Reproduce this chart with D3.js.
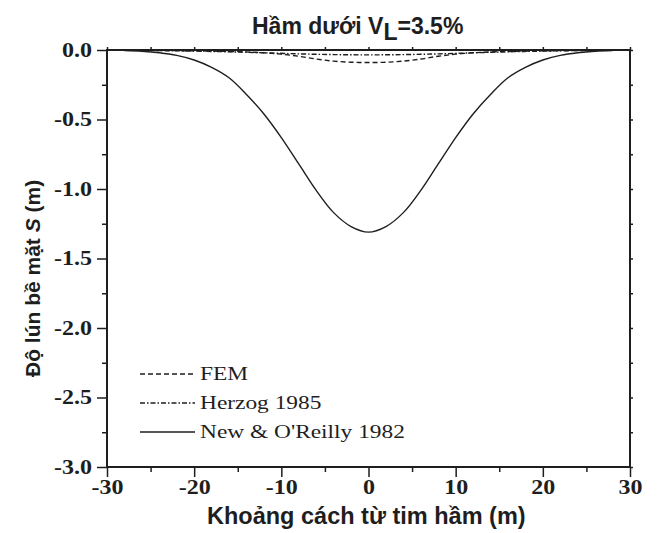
<!DOCTYPE html>
<html>
<head>
<meta charset="utf-8">
<script src="https://cdn.jsdelivr.net/npm/d3@7"></script>
<style>
  body { margin: 0; background: #fff; }
  svg { display: block; }
</style>
</head>
<body>
<svg id="chart" width="657" height="533"></svg>
<script>
// Distance from tunnel centre (m)
const xNew = [-28, -26, -24, -22, -20, -18, -16, -14, -12, -10, -8, -6, -4, -2, 0, 2, 4, 6, 8, 10, 12, 14, 16, 18, 20, 22, 24, 26, 28];
// New & O'Reilly 1982 settlement (m)
const sNew = [-0.004, -0.009, -0.020, -0.039, -0.072, -0.125, -0.20, -0.32, -0.46, -0.63, -0.82, -1.01, -1.17, -1.27, -1.31, -1.27, -1.17, -1.01, -0.82, -0.63, -0.46, -0.32, -0.20, -0.125, -0.072, -0.039, -0.020, -0.009, -0.004];

const xFem = [-27, -25, -20, -15, -12, -10, -8, -6, -4, -2, 0, 2, 4, 6, 8, 10, 12, 15, 20, 25, 27];
const sFem = [-0.002, -0.003, -0.006, -0.012, -0.02, -0.03, -0.045, -0.065, -0.08, -0.088, -0.09, -0.088, -0.08, -0.065, -0.045, -0.03, -0.02, -0.012, -0.006, -0.003, -0.002];

const xHer = [-27, -24, -20, -16, -12, -8, -4, 0, 4, 8, 12, 16, 20, 24, 27];
const sHer = [-0.002, -0.004, -0.008, -0.013, -0.02, -0.028, -0.033, -0.035, -0.033, -0.028, -0.02, -0.013, -0.008, -0.004, -0.002];

const xTicks = [-30, -20, -10, 0, 10, 20, 30];
const yTicks = [0, -0.5, -1.0, -1.5, -2.0, -2.5, -3.0];
const legendLabels = ["FEM", "Herzog 1985", "New & O'Reilly 1982"];

const margin = { top: 50, right: 27, bottom: 66, left: 107 };
const width = 657 - margin.left - margin.right;
const height = 533 - margin.top - margin.bottom;

const svg = d3.select("#chart");
const g = svg.append("g")
    .attr("transform", "translate(" + margin.left + "," + margin.top + ")");

const x = d3.scaleLinear().domain([-30, 30]).range([0, width]);
const y = d3.scaleLinear().domain([-3, 0]).range([height, 0]);

const ink = "#1e1e1e";
const serif = "'Liberation Serif', 'Times New Roman', serif";
const sans = "'Liberation Sans', Arial, sans-serif";
const stretch = 1.2; // tick labels look horizontally stretched

// minor ticks
g.append("g")
    .attr("transform", "translate(0," + height + ")")
    .call(d3.axisBottom(x).tickValues(d3.range(-25, 30, 10)).tickSize(5).tickFormat(""))
    .call(a => a.select(".domain").remove());
g.append("g")
    .call(d3.axisLeft(y).tickValues(d3.range(-2.75, 0, 0.5)).tickSize(5).tickFormat(""))
    .call(a => a.select(".domain").remove());
// top and right frame ticks
g.append("g")
    .call(d3.axisTop(x).tickValues(d3.range(-30, 31, 5)).tickSize(3).tickFormat(""))
    .call(a => a.select(".domain").remove());
g.append("g")
    .attr("transform", "translate(" + width + ",0)")
    .call(d3.axisRight(y).tickValues(d3.range(-3, 0.01, 0.25)).tickSize(3).tickFormat(""))
    .call(a => a.select(".domain").remove());

// major axes
const xAxis = g.append("g")
    .attr("transform", "translate(0," + height + ")")
    .call(d3.axisBottom(x).tickValues(xTicks).tickSize(10).tickSizeOuter(0).tickPadding(3)
        .tickFormat(d => String(d)));
const yAxis = g.append("g")
    .call(d3.axisLeft(y).tickValues(yTicks).tickSize(10).tickSizeOuter(0)
        .tickFormat(d => d.toFixed(1).replace("-0.0", "0.0")));

[xAxis, yAxis].forEach(a => {
    a.selectAll("text")
        .attr("fill", ink)
        .attr("transform", "scale(" + stretch + ",1)")
        .style("font-family", serif)
        .style("font-weight", "bold")
        .style("font-size", "20px");
});
yAxis.selectAll("text").attr("x", -15 / stretch);
g.selectAll(".tick line").attr("stroke", ink).attr("stroke-width", 1.5);

// frame
g.append("rect")
    .attr("width", width).attr("height", height)
    .attr("fill", "none").attr("stroke", ink).attr("stroke-width", 2);

// series
const line = d3.line().x(d => x(d[0])).y(d => y(d[1])).curve(d3.curveCatmullRom);
const series = [
    { xs: xFem, ys: sFem, dash: "5,3" },
    { xs: xHer, ys: sHer, dash: "5,2,1.5,2" },
    { xs: xNew, ys: sNew, dash: null }
];
series.forEach(s => {
    g.append("path")
        .datum(d3.zip(s.xs, s.ys))
        .attr("d", line)
        .attr("fill", "none")
        .attr("stroke", ink)
        .attr("stroke-width", 1.4)
        .attr("stroke-dasharray", s.dash);
});

// legend
const legend = g.append("g").attr("transform", "translate(33,324)");
legendLabels.forEach((lab, i) => {
    const row = legend.append("g").attr("transform", "translate(0," + (i * 29) + ")");
    row.append("line")
        .attr("x1", 0).attr("x2", 55)
        .attr("stroke", ink).attr("stroke-width", 1.4)
        .attr("stroke-dasharray", series[i].dash);
    row.append("text")
        .attr("transform", "translate(60,6) scale(1.3,1)")
        .attr("fill", ink)
        .style("font-family", serif)
        .style("font-size", "18px")
        .text(lab);
});

// title
const title = svg.append("text")
    .attr("x", 252).attr("y", 34)
    .attr("fill", ink)
    .style("font-family", sans)
    .style("font-weight", "bold")
    .style("font-size", "23px");
title.append("tspan").text("Hầm dưới V");
title.append("tspan").attr("dy", 6).text("L");
title.append("tspan").attr("dy", -6).text("=3.5%");

// x axis title
svg.append("text")
    .attr("x", 207).attr("y", 524)
    .attr("fill", ink)
    .style("font-family", sans)
    .style("font-weight", "bold")
    .style("font-size", "23.5px")
    .text("Khoảng cách từ tim hầm (m)");

// y axis title
const yTitle = svg.append("text")
    .attr("transform", "translate(40,377) rotate(-90)")
    .attr("fill", ink)
    .style("font-family", sans)
    .style("font-weight", "bold")
    .style("font-size", "21px");
yTitle.append("tspan").text("Độ lún bề mặt ");
yTitle.append("tspan").style("font-style", "italic").text("S");
yTitle.append("tspan").text(" (m)");
</script>
</body>
</html>
